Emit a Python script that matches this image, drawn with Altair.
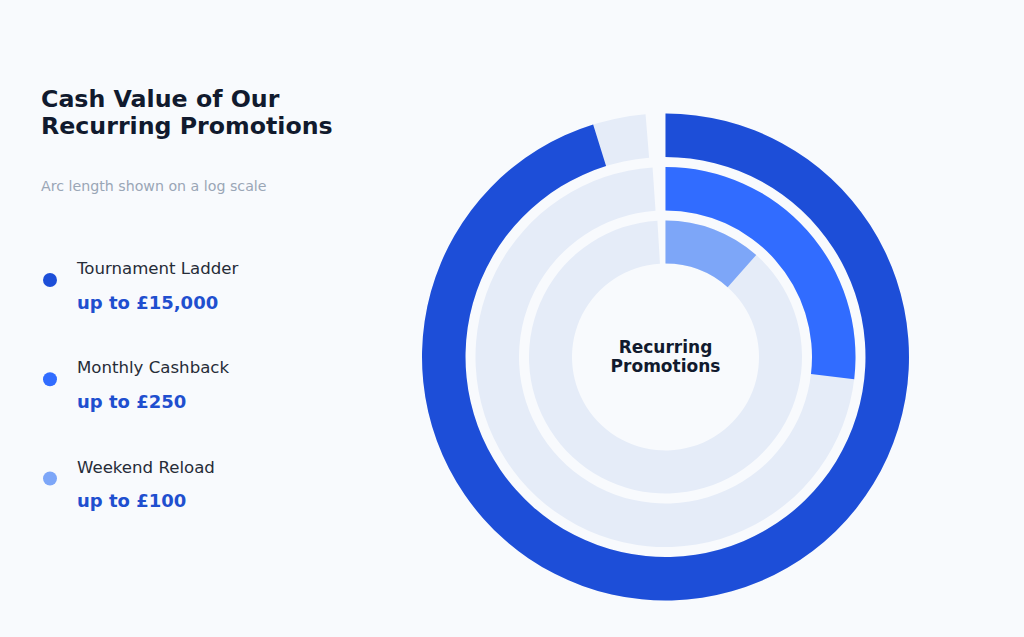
import math
import altair as alt
import pandas as pd

# ---- data ----
names = ["Tournament Ladder", "Monthly Cashback", "Weekend Reload"]
values = [15000, 250, 100]
value_labels = ["up to £15,000", "up to £250", "up to £100"]
colors = ["#1d4ed8", "#316cff", "#7da6f8"]
title_lines = ["Cash Value of Our", "Recurring Promotions"]
subtitle = "Arc length shown on a log scale"
center_lines = ["Recurring", "Promotions"]
log_domain = [50, 20000]

# ---- styling ----
W, H = 1024, 637
BG = "#f8fafd"
TRACK = "#e5ecf8"
FONT = "DejaVu Sans"
CX, CY = 665.5, 357
RINGS = [(243.5, 200), (190, 146.5), (136.5, 93.5)]
TRACK_END_DEG = [355.3, 356.1, 356.6]

df = pd.DataFrame({"name": names, "value": values, "label": value_labels})
base = alt.Chart(df)

theta_scale = alt.Scale(type="log", domain=log_domain, range=[0, 2 * math.pi])
color_scale = alt.Scale(domain=names, range=colors)
y_scale = alt.Scale(type="point", domain=names, range=[280, 478.5], padding=0)

layers = []
for i, n in enumerate(names):
    r_out, r_in = RINGS[i]
    track = base.transform_filter(alt.datum.name == n).mark_arc(
        radius=r_out, radius2=r_in, color=TRACK
    ).encode(
        x=alt.value(CX), y=alt.value(CY),
        theta=alt.value(0), theta2=alt.value(math.radians(TRACK_END_DEG[i])),
    )
    arc = base.transform_filter(alt.datum.name == n).mark_arc(
        radius=r_out, radius2=r_in
    ).encode(
        x=alt.value(CX), y=alt.value(CY),
        theta=alt.Theta("value:Q", scale=theta_scale, stack=False),
        theta2=alt.value(0),
        color=alt.Color("name:N", scale=color_scale, legend=None),
    )
    layers += [track, arc]

# legend
dots = base.mark_circle(size=195, opacity=1).encode(
    x=alt.value(50),
    y=alt.Y("name:N", scale=y_scale, axis=None),
    color=alt.Color("name:N", scale=color_scale, legend=None),
)
labels = base.mark_text(
    align="left", baseline="alphabetic", dy=-6, fontSize=16.6, font=FONT, color="#262c38"
).encode(x=alt.value(77), y=alt.Y("name:N", scale=y_scale, axis=None), text="name:N")
vals = base.mark_text(
    align="left", baseline="alphabetic", dy=28.5, fontSize=18, font=FONT,
    fontWeight="bold", color="#1f4fcf"
).encode(x=alt.value(77), y=alt.Y("name:N", scale=y_scale, axis=None), text="label:N")
layers += [dots, labels, vals]

def text_layer(txt, x, y, size, color, weight="normal", align="left"):
    return alt.Chart(pd.DataFrame({"t": [txt]})).mark_text(
        align=align, baseline="alphabetic", fontSize=size, font=FONT,
        fontWeight=weight, color=color
    ).encode(x=alt.value(x), y=alt.value(y), text="t:N")

layers.append(text_layer(title_lines[0], 41, 106.7, 23.7, "#111a2e", "bold"))
layers.append(text_layer(title_lines[1], 41, 133.5, 23.7, "#111a2e", "bold"))
layers.append(text_layer(subtitle, 41, 190.5, 14.2, "#9aa6b6"))
layers.append(text_layer(center_lines[0], CX, 353.3, 17, "#111a2e", "bold", "center"))
layers.append(text_layer(center_lines[1], CX, 371.7, 17, "#111a2e", "bold", "center"))

chart = alt.layer(*layers).properties(
    width=W, height=H, background=BG, padding=0,
    autosize=alt.AutoSizeParams(type="none"),
).configure_view(stroke=None)

chart.save("out.html", embed_options={"renderer": "svg", "actions": False})
